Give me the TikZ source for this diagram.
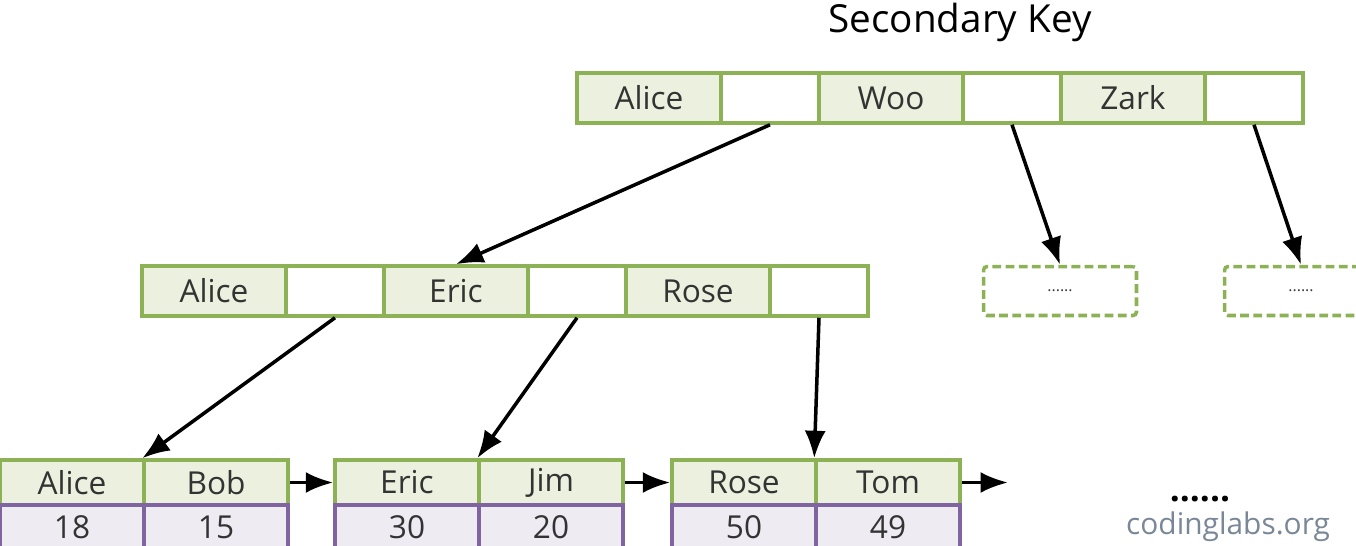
\documentclass[tikz,border=0pt]{standalone}
\usepackage{fontspec}
\setmainfont{Open Sans}
\usetikzlibrary{arrows.meta}

\definecolor{bordvert}{HTML}{8DB255}
\definecolor{fondvert}{HTML}{EBF1DE}
\definecolor{bordmauve}{HTML}{8064A2}
\definecolor{fondmauve}{HTML}{EEEBF3}
\definecolor{gristexte}{HTML}{7A8796}

\begin{document}
\begin{tikzpicture}[x=0.02cm,y=-0.02cm,
    cle/.style={draw=bordvert,fill=fondvert,line width=2pt,
        minimum width=2.88cm,minimum height=1cm,inner sep=0pt,
        text=black!80,font=\fontsize{18}{20}\selectfont},
    ptr/.style={cle,fill=white,minimum width=1.96cm},
    feuille/.style={cle,minimum height=0.9cm},
    donnee/.style={feuille,draw=bordmauve,fill=fondmauve},
    suite/.style={draw=bordvert,line width=2pt,dash pattern=on 5pt off 2.5pt,
        rounded corners=2pt,minimum width=3.06cm,minimum height=0.98cm,
        text=black!75,font=\small},
    fleche/.style={-{Latex[length=0.55cm,width=0.42cm]},line width=2pt}]

\useasboundingbox (0,0) rectangle (1356,545);
\clip (0,0) rectangle (1356,545);

% Titre
\node (titre) at (960,22) {\fontsize{22}{24}\selectfont Secondary Key};

% Racine
\node[cle] (alice1) at (649,98) {Alice};
\node[ptr] (pa1) at (770,98) {};
\node[cle] (woo) at (891,98) {Woo};
\node[ptr] (pa2) at (1012,98) {};
\node[cle] (zark) at (1133,98) {Zark};
\node[ptr] (pa3) at (1254,98) {};

% Niveau intermédiaire
\node[cle] (alice2) at (214,291) {Alice};
\node[ptr] (pb1) at (335,291) {};
\node[cle] (eric1) at (456,291) {Eric};
\node[ptr] (pb2) at (577,291) {};
\node[cle] (rose1) at (698,291) {Rose};
\node[ptr] (pb3) at (819,291) {};

\node[suite] (suite1) at (1060,291) {......};
\node[suite] (suite2) at (1301,291) {......};

% Feuilles
\node[feuille] (alice3) at (72,482.5) {Alice};
\node[feuille] (bob) at (216,482.5) {Bob};
\node[feuille] (eric2) at (407,482.5) {Eric};
\node[feuille] (jim) at (551,482.5) {Jim};
\node[feuille] (rose2) at (744,482.5) {Rose};
\node[feuille] (tom) at (888,482.5) {Tom};

\node[donnee] (n18) at (72,527.5) {18};
\node[donnee] (n15) at (216,527.5) {15};
\node[donnee] (n30) at (407,527.5) {30};
\node[donnee] (n20) at (551,527.5) {20};
\node[donnee] (n50) at (744,527.5) {50};
\node[donnee] (n49) at (888,527.5) {49};

\node (points) at (1200,499) {\fontsize{20}{22}\selectfont\bfseries ......};
\node[anchor=west,text=gristexte] (site) at (1120,527)
{\fontsize{17}{19}\selectfont codinglabs.org};

% Pointeurs
\draw[fleche]
(pa1.south)
--
(eric1.north);

\draw[fleche]
(pa2.south)
--
(suite1.north);

\draw[fleche]
(pa3.south)
--
(suite2.north);

\draw[fleche]
(pb1.south)
--
(bob.north west);

\draw[fleche]
(pb2.south)
--
(jim.north west);

\draw[fleche]
(pb3.south)
--
(tom.north west);

% Chaînage des feuilles
\coordinate (fin) at (1008,482.5);
\draw[fleche] (bob.east) -- (eric2.west);
\draw[fleche] (jim.east) -- (rose2.west);
\draw[fleche] (tom.east) -- (fin);

\end{tikzpicture}
\end{document}
